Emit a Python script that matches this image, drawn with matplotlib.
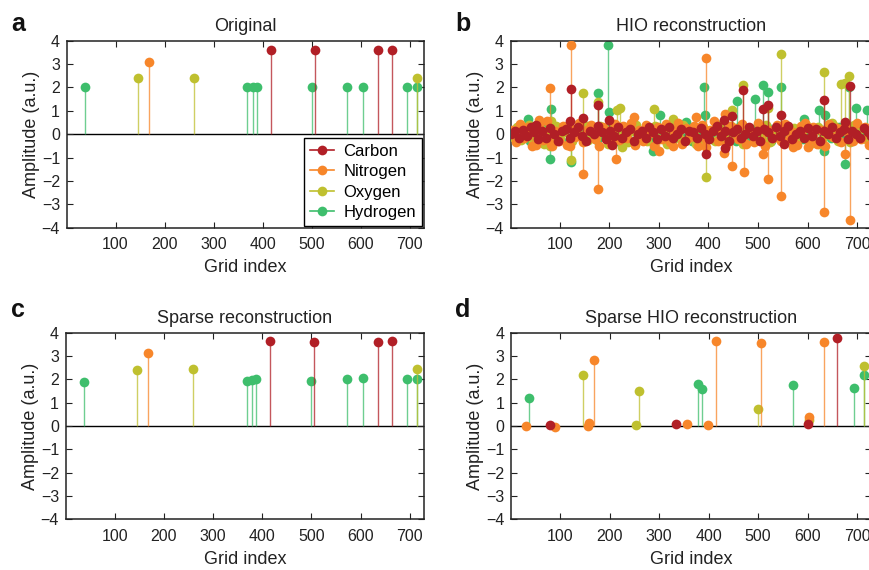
import numpy as np
import matplotlib
matplotlib.use("Agg")
import matplotlib.pyplot as plt
from matplotlib.lines import Line2D
from matplotlib.legend_handler import HandlerLine2D

plt.rcParams['font.family'] = ['Liberation Sans', 'DejaVu Sans']

species = ['Carbon', 'Nitrogen', 'Oxygen', 'Hydrogen']
colors = {'Carbon': '#B11F26', 'Nitrogen': '#F7862A',
          'Oxygen': '#BFC02F', 'Hydrogen': '#3EBE6C'}

x_ticks = [100, 200, 300, 400, 500, 600, 700]
y_ticks = [-4, -3, -2, -1, 0, 1, 2, 3, 4]

# ---------------- panel a: Original ----------------
orig_x = {
    'Carbon':   [416, 506, 636, 663],
    'Nitrogen': [168],
    'Oxygen':   [145, 260, 715],
    'Hydrogen': [37, 369, 380, 388, 500, 572, 605, 694, 714],
}
orig_y = {
    'Carbon':   [3.6, 3.6, 3.6, 3.6],
    'Nitrogen': [3.1],
    'Oxygen':   [2.4, 2.4, 2.4],
    'Hydrogen': [2.0, 2.0, 2.0, 2.0, 2.0, 2.0, 2.0, 2.0, 2.0],
}

# ---------------- panel c: Sparse reconstruction ----------------
sparse_x = orig_x
sparse_y = {
    'Carbon':   [3.64, 3.61, 3.61, 3.66],
    'Nitrogen': [3.11],
    'Oxygen':   [2.4, 2.43, 2.43],
    'Hydrogen': [1.9, 1.94, 1.97, 2.0, 1.94, 2.03, 2.06, 2.0, 2.0],
}

# ---------------- panel d: Sparse HIO reconstruction ----------------
shio_x = {
    'Carbon':   [80, 334, 601, 660],
    'Nitrogen': [31, 90, 157, 159, 168, 356, 399, 414, 505, 603, 634],
    'Oxygen':   [146, 254, 260, 499, 602, 713],
    'Hydrogen': [36, 378, 387, 571, 694, 713],
}
shio_y = {
    'Carbon':   [0.06, 0.1, 0.08, 3.77],
    'Nitrogen': [0.0, -0.03, 0.0, 0.15, 2.84, 0.1, 0.03, 3.63, 3.57, 0.4, 3.61],
    'Oxygen':   [2.19, 0.05, 1.52, 0.72, 0.26, 2.57],
    'Hydrogen': [1.22, 1.79, 1.6, 1.75, 1.65, 2.18],
}

# ---------------- panel b: HIO reconstruction ----------------
# large excursions
hio_x = {
    'Carbon':   [52, 120, 122, 146, 178, 199, 206, 395, 432, 433, 448, 470,
                 511, 520, 546, 553, 634, 676, 685],
    'Nitrogen': [21, 52, 58, 80, 84, 120, 122, 146, 178, 214, 250, 301, 328,
                 375, 395, 396, 432, 434, 448, 471, 511, 520, 546, 570, 600,
                 634, 676, 685],
    'Oxygen':   [80, 83, 122, 146, 178, 216, 222, 225, 290, 329, 375, 396,
                 448, 469, 520, 546, 623, 634, 650, 667, 676, 684],
    'Hydrogen': [35, 80, 83, 122, 178, 198, 199, 289, 302, 354, 392, 394, 458,
                 493, 511, 520, 546, 593, 624, 634, 635, 676, 683, 698, 719],
}
hio_y = {
    'Carbon':   [0.4, 0.57, 1.93, 0.7, 1.24, 0.62, -0.48, -0.84, 0.62, -0.6,
                 0.78, 1.87, 1.07, 1.25, 0.8, -0.4, 1.48, 0.52, 2.06],
    'Nitrogen': [0.36, -0.47, 0.6, 1.96, -0.52, -0.5, 3.8, -1.7, -2.35, -1.07,
                 0.72, -0.73, -0.5, 0.72, -0.55, 3.27, -0.8, 0.88, -1.38,
                 -1.62, -0.86, -1.9, -2.65, -0.55, -0.55, -3.31, -0.83, -3.69],
    'Oxygen':   [-0.52, 0.57, -1.1, 1.75, 1.38, 1.03, 1.13, -0.54, 1.08, 0.64,
                 -0.4, -1.82, 1.03, 2.1, 1.14, 3.43, -0.4, 2.67, 0.46, 2.15,
                 2.2, 2.48],
    'Hydrogen': [0.64, -1.08, 1.06, -1.2, 1.77, 3.8, 0.96, -0.7, 0.8, 0.52,
                 2.0, 0.83, 1.4, 1.52, 2.1, 1.82, 2.0, 0.65, 1.03, -0.73, 0.83,
                 -1.26, 2.0, 1.14, 1.03],
}
# small values across the whole grid (every 8th index, per species offset)
hio_bg_start = {'Carbon': 1, 'Nitrogen': 3, 'Oxygen': 5, 'Hydrogen': 7}
hio_bg_y = {
    'Carbon': [0.0, 0.15, -0.15, 0.2, -0.08, 0.3, 0.08, -0.22, 0.15, -0.15,
               0.28, 0.0, -0.28, 0.15, 0.22, -0.15, 0.08, 0.3, -0.08, -0.28,
               0.15, 0.0, 0.35, 0.08, -0.22, 0.15, -0.08, 0.3, -0.15, 0.08,
               0.22, -0.28, 0.0, 0.15, -0.15, 0.3, 0.08, -0.22, 0.22, -0.08,
               0.3, -0.15, 0.0, 0.22, -0.3, 0.15, 0.08, -0.15, 0.28, 0.0,
               -0.22, 0.15, 0.35, -0.08, 0.15, -0.3, 0.08, 0.22, -0.15, 0.0,
               0.3, -0.08, 0.15, -0.28, 0.22, 0.08, -0.15, 0.3, -0.08, 0.15,
               0.35, -0.22, 0.0, 0.15, -0.15, 0.28, -0.08, 0.22, -0.3, 0.15,
               0.0, 0.3, -0.15, 0.08, 0.22, -0.22, 0.15, 0.0, -0.15, 0.28,
               0.08, -0.08],
    'Nitrogen': [0.2, -0.35, 0.45, -0.15, 0.3, -0.5, 0.1, 0.4, -0.25, 0.55,
                 -0.4, 0.15, -0.3, 0.35, -0.45, 0.25, -0.1, 0.5, -0.35, 0.2,
                 0.4, -0.2, -0.5, 0.3, 0.1, -0.4, 0.45, -0.25, 0.35, -0.15,
                 0.5, -0.45, 0.2, -0.3, 0.4, 0.05, -0.5, 0.3, -0.2, 0.45,
                 -0.35, 0.15, 0.5, -0.4, 0.25, -0.1, 0.35, -0.5, 0.4, -0.25,
                 0.2, 0.55, -0.3, 0.1, -0.45, 0.35, 0.25, -0.2, 0.45, -0.4,
                 0.15, -0.35, 0.5, 0.3, -0.5, 0.2, -0.15, 0.4, -0.3, 0.45,
                 -0.2, 0.1, -0.45, 0.35, 0.5, -0.25, 0.3, -0.4, 0.2, -0.5,
                 0.45, -0.1, 0.25, -0.35, 0.4, 0.15, -0.3, 0.5, -0.2, 0.3,
                 -0.45],
    'Oxygen': [-0.1, 0.3, -0.25, 0.15, 0.4, -0.35, 0.05, 0.25, -0.4, 0.2,
               -0.1, 0.35, -0.2, 0.1, 0.3, -0.3, 0.15, -0.05, 0.4, -0.25,
               0.2, -0.15, 0.35, 0.05, -0.4, 0.25, -0.2, 0.1, 0.3, -0.35,
               0.15, 0.4, -0.1, 0.2, -0.3, 0.05, 0.35, -0.2, 0.25, -0.4,
               0.1, 0.3, -0.15, 0.4, -0.25, 0.05, 0.2, -0.35, 0.3, -0.1,
               0.15, -0.3, 0.4, 0.1, -0.2, 0.35, -0.05, 0.25, -0.4, 0.2,
               0.05, -0.25, 0.3, -0.15, 0.4, -0.35, 0.1, 0.2, -0.3, 0.35,
               -0.1, 0.25, -0.2, 0.05, 0.4, -0.4, 0.15, 0.3, -0.25, 0.1,
               -0.05, 0.35, -0.3, 0.2, 0.15, -0.35, 0.4, -0.1, 0.25, -0.2,
               0.1],
    'Hydrogen': [0.15, -0.2, 0.3, 0.05, -0.3, 0.2, -0.1, 0.35, -0.25, 0.1,
                 0.25, -0.15, 0.05, 0.3, -0.3, 0.2, -0.05, 0.15, -0.2, 0.35,
                 0.1, -0.25, 0.2, -0.1, 0.3, 0.05, -0.3, 0.25, -0.15, 0.1,
                 0.35, -0.2, 0.15, -0.05, 0.25, -0.3, 0.1, 0.2, -0.1, 0.3,
                 -0.25, 0.05, 0.35, -0.15, 0.2, -0.3, 0.1, 0.25, -0.05, 0.15,
                 -0.2, 0.3, 0.05, -0.25, 0.2, 0.1, -0.3, 0.35, -0.1, 0.15,
                 -0.2, 0.25, 0.05, -0.15, 0.3, -0.3, 0.1, 0.2, -0.05, 0.35,
                 -0.25, 0.15, 0.05, -0.2, 0.3, -0.1, 0.2, -0.3, 0.1, 0.25,
                 -0.15, 0.05, 0.3, -0.2, 0.15, -0.25, 0.35, 0.1, -0.1, 0.2,
                 -0.3],
}

draw_order = ['Hydrogen', 'Oxygen', 'Nitrogen', 'Carbon']

W, H = 870, 570
fig = plt.figure(figsize=(W / 100, H / 100), dpi=100)
TXT = '#222222'


def px_rect(left, top, right, bottom):
    return [left / W, 1 - bottom / H, (right - left) / W, (bottom - top) / H]


def style_axes(ax, title):
    ax.set_xlim(1, 729)
    ax.set_ylim(-4, 4)
    ax.set_xticks(x_ticks)
    ax.set_yticks(y_ticks)
    ax.tick_params(direction='in', top=True, right=True, length=4, width=0.8,
                   labelsize=11.5, colors=TXT)
    ax.tick_params(axis='x', pad=7)
    ax.tick_params(axis='y', pad=5)
    for s in ax.spines.values():
        s.set_linewidth(1.1)
        s.set_color(TXT)
    ax.axhline(0, color='black', lw=1.0, zorder=1.5)
    ax.set_title(title, fontsize=13, color=TXT, pad=7)
    ax.set_xlabel('Grid index', fontsize=13, color=TXT, labelpad=5)
    ax.set_ylabel('Amplitude (a.u.)', fontsize=13, color=TXT, labelpad=1)


def stems(ax, xs, ys):
    for k, sp in enumerate(draw_order):
        x = np.asarray(xs[sp], dtype=float)
        y = np.asarray(ys[sp], dtype=float)
        z = 2 + k * 0.5
        ax.vlines(x, 0, y, colors=colors[sp], alpha=0.75, lw=1.0, zorder=z)
        ax.plot(x, y, 'o', color=colors[sp], ms=7.0, mec='none', zorder=z + 0.2)


ax_a = fig.add_axes(px_rect(67, 40.7, 424, 227.7))
ax_b = fig.add_axes(px_rect(510.7, 40.7, 871.5, 227.7))
ax_c = fig.add_axes(px_rect(66, 332.7, 424, 519.3))
ax_d = fig.add_axes(px_rect(511.2, 332.7, 871.5, 519.3))

style_axes(ax_a, 'Original')
stems(ax_a, orig_x, orig_y)

# panel b: combine background and excursions
hio_all_x, hio_all_y = {}, {}
for sp in species:
    bg = np.asarray(hio_bg_y[sp])
    bx = hio_bg_start[sp] + 8 * np.arange(len(bg))
    hio_all_x[sp] = np.concatenate([bx, hio_x[sp]])
    hio_all_y[sp] = np.concatenate([bg, hio_y[sp]])
style_axes(ax_b, 'HIO reconstruction')
stems(ax_b, hio_all_x, hio_all_y)

style_axes(ax_c, 'Sparse reconstruction')
stems(ax_c, sparse_x, sparse_y)

style_axes(ax_d, 'Sparse HIO reconstruction')
stems(ax_d, shio_x, shio_y)


class EndMarkerHandler(HandlerLine2D):
    def get_xdata(self, legend, xdescent, ydescent, width, height, fontsize):
        xdata = np.array([-xdescent, -xdescent + width])
        return xdata, np.array([-xdescent + width])


handles = []
for sp in species:
    h = Line2D([0, 1], [0, 0], color=colors[sp], lw=1.2, marker='o', ms=7.0,
               mec='none', mfc=colors[sp])
    handles.append(h)
leg = ax_a.legend(handles, species, loc='lower right', fontsize=12,
                  handler_map={Line2D: EndMarkerHandler(numpoints=1)},
                  handlelength=1.45, handletextpad=0.55, labelspacing=0.32,
                  borderpad=0.35, borderaxespad=0.12, fancybox=False,
                  framealpha=1, edgecolor='black')
leg.get_frame().set_linewidth(1.0)
leg.set_zorder(10)

# panel letters
for lbl, xp, yp in [('a', 11, 31), ('b', 455, 31), ('c', 11, 317), ('d', 455, 317)]:
    fig.text(xp / W, 1 - yp / H, lbl, fontsize=18, fontweight='bold',
             color='#111111', va='baseline', ha='left')

fig.savefig('out.png', dpi=100)
